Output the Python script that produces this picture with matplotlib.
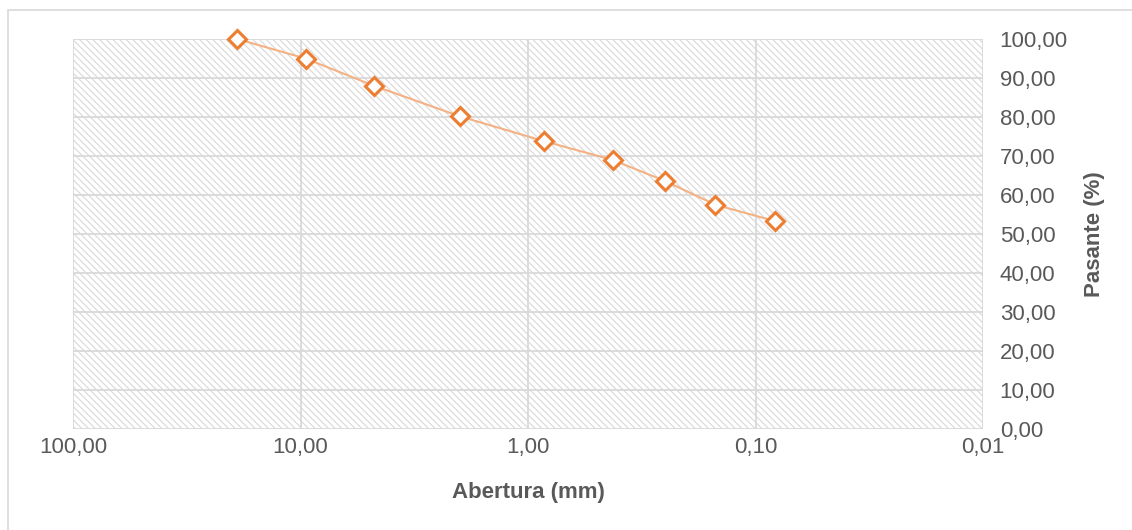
import matplotlib
matplotlib.use('Agg')
import matplotlib.pyplot as plt
from matplotlib.patches import Rectangle
from matplotlib.ticker import FixedLocator, FuncFormatter, NullLocator

# sieve opening (mm) and percent passing
abertura = [19.0, 9.5, 4.75, 2.0, 0.85, 0.425, 0.25, 0.15, 0.082]
pasante = [100.0, 95.0, 88.0, 80.2, 73.8, 69.0, 63.6, 57.5, 53.3]

x_ticks = [100, 10, 1, 0.1, 0.01]
x_labels = ['100,00', '10,00', '1,00', '0,10', '0,01']
y_ticks = list(range(0, 101, 10))

plt.rcParams['font.family'] = ['Liberation Sans', 'DejaVu Sans']
plt.rcParams['hatch.linewidth'] = 0.9
plt.rcParams['hatch.color'] = '#dcdcdc'

text_col = '#595959'
grid_col = '#d9d9d9'

fig = plt.figure(figsize=(11.32, 5.30), dpi=100)
ax = fig.add_axes([73 / 1132, 1 - 429 / 530, 910 / 1132, 390 / 530])

# outer chart border (only left/top visible in the crop)
fig.add_artist(Rectangle((8 / 1132, -0.2), 1.2, 1.2 - 10 / 530,
                         transform=fig.transFigure, fill=False,
                         edgecolor='#d9d9d9', lw=1.2))

# hatched plot background
ax.patch.set_visible(False)
ax.add_patch(Rectangle((0, 0), 1, 1, transform=ax.transAxes, facecolor='white',
                       edgecolor='#dcdcdc', hatch='\\\\\\\\\\', lw=0, zorder=0))

ax.plot(abertura, pasante, color='#f4b183', lw=1.5, zorder=3)
ax.plot(abertura, pasante, ls='none', marker='D', ms=9, mfc='white',
        mec='#ed7d31', mew=2.2, zorder=4, clip_on=False)

ax.set_xscale('log')
ax.set_xlim(100, 0.01)
ax.set_ylim(0, 100)
ax.xaxis.set_major_locator(FixedLocator(x_ticks))
ax.xaxis.set_minor_locator(NullLocator())
ax.set_xticklabels(x_labels)
ax.yaxis.set_major_locator(FixedLocator(y_ticks))
ax.yaxis.set_major_formatter(FuncFormatter(lambda v, p: f'{v:.2f}'.replace('.', ',')))
ax.yaxis.tick_right()
ax.yaxis.set_label_position('right')

ax.grid(True, color=grid_col, lw=1.3, zorder=1)
ax.set_axisbelow(False)
for s in ax.spines.values():
    s.set_visible(False)
ax.tick_params(length=0, labelsize=16, colors=text_col)
ax.tick_params(axis='y', pad=12)
ax.tick_params(axis='x', pad=6)

ax.set_xlabel('Abertura (mm)', fontsize=16, fontweight='bold', color=text_col, labelpad=17)
ax.set_ylabel('Pasante (%)', fontsize=16, fontweight='bold', color=text_col, labelpad=12)

fig.savefig('out.png', dpi=100)
plt.close(fig)
